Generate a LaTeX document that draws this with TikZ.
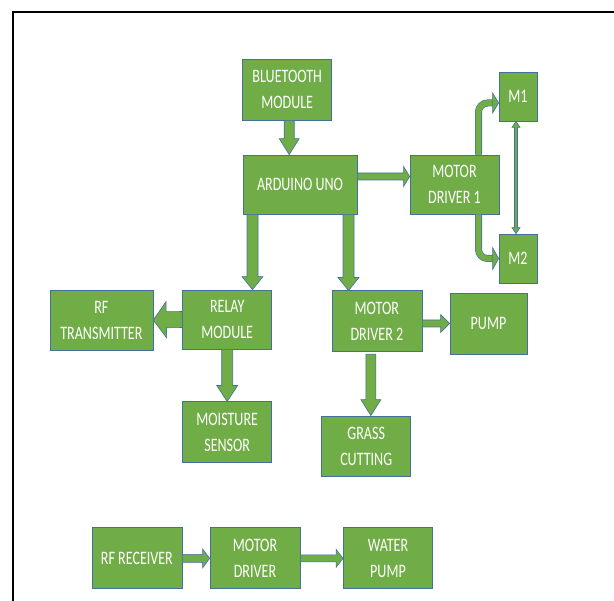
\documentclass[tikz,border=0pt]{standalone}
\usepackage{fontspec}
\setmainfont{Carlito}[FakeStretch=0.74]
\usepackage{tikz}
\usetikzlibrary{calc}
\definecolor{boxgreen}{HTML}{70AD47}
\definecolor{boxblue}{HTML}{41719C}
\tikzset{
  block/.style={draw=boxblue, line width=0.8pt, fill=boxgreen, text=white, align=center,
    inner sep=0pt, font=\fontsize{19}{26}\selectfont},
  blk/.style args={#1/#2/#3}{draw=boxblue, line width=0.6pt, fill=boxgreen,
    to path={let \p1=(\tikztostart), \p2=(\tikztotarget),
      \n1={atan2(\y2-\y1,\x2-\x1)}, \n2={veclen(\x2-\x1,\y2-\y1)} in
      ([shift={(\p1)},rotate=\n1]0pt,#1pt/2) -- ([shift={(\p1)},rotate=\n1]\n2-#3pt,#1pt/2)
      -- ([shift={(\p1)},rotate=\n1]\n2-#3pt,#2pt/2) -- ([shift={(\p1)},rotate=\n1]\n2,0pt)
      -- ([shift={(\p1)},rotate=\n1]\n2-#3pt,-#2pt/2) -- ([shift={(\p1)},rotate=\n1]\n2-#3pt,-#1pt/2)
      -- ([shift={(\p1)},rotate=\n1]0pt,-#1pt/2) -- cycle}},
  dblk/.style args={#1/#2/#3}{draw=boxblue, line width=0.6pt, fill=boxgreen,
    to path={let \p1=(\tikztostart), \p2=(\tikztotarget),
      \n1={atan2(\y2-\y1,\x2-\x1)}, \n2={veclen(\x2-\x1,\y2-\y1)} in
      ([shift={(\p1)},rotate=\n1]0pt,0pt) -- ([shift={(\p1)},rotate=\n1]#3pt,#2pt/2)
      -- ([shift={(\p1)},rotate=\n1]#3pt,#1pt/2) -- ([shift={(\p1)},rotate=\n1]\n2-#3pt,#1pt/2)
      -- ([shift={(\p1)},rotate=\n1]\n2-#3pt,#2pt/2) -- ([shift={(\p1)},rotate=\n1]\n2,0pt)
      -- ([shift={(\p1)},rotate=\n1]\n2-#3pt,-#2pt/2) -- ([shift={(\p1)},rotate=\n1]\n2-#3pt,-#1pt/2)
      -- ([shift={(\p1)},rotate=\n1]#3pt,-#1pt/2) -- ([shift={(\p1)},rotate=\n1]#3pt,-#2pt/2) -- cycle}},
  dbl/.style={draw=boxblue, line width=0.6pt, double=boxgreen, double distance=5.8pt, rounded corners=9pt}
}
\begin{document}
\begin{tikzpicture}[x=1pt, y=-1pt]
\useasboundingbox (0,0) rectangle (614,601);
\draw[line width=2pt] (13,601) -- (13,12) -- (614,12);

\node[block, minimum width=89pt, minimum height=61pt] (bt) at (287.2,89.5) {BLUETOOTH\\MODULE};
\node[block, minimum width=114pt, minimum height=59pt] (ard) at (300,184.5) {ARDUINO UNO};
\node[block, minimum width=89pt, minimum height=59pt] (md1) at (454.5,184.5) {MOTOR\\DRIVER 1};
\node[block, minimum width=38pt, minimum height=49pt] (m1) at (518,96.5) {M1};
\node[block, minimum width=38pt, minimum height=49pt] (m2) at (518,258.5) {M2};
\node[block, minimum width=103pt, minimum height=60pt] (rf) at (101.4,320) {RF\\TRANSMITTER};
\node[block, minimum width=89pt, minimum height=59pt] (relay) at (227.2,319.5) {RELAY\\MODULE};
\node[block, minimum width=89pt, minimum height=61pt] (moist) at (227.2,432.4) {MOISTURE\\SENSOR};
\node[block, minimum width=90pt, minimum height=61pt] (md2) at (376.9,321.4) {MOTOR\\DRIVER 2};
\node[block, minimum width=89pt, minimum height=60pt] (grass) at (366.2,446) {GRASS\\CUTTING};
\node[block, minimum width=77pt, minimum height=61pt] (pump) at (488.5,323.5) {PUMP};
\node[block, minimum width=90pt, minimum height=61pt] (rfr) at (136.9,558.4) {RF RECEIVER};
\node[block, minimum width=90pt, minimum height=61pt] (md3) at (255,558.4) {MOTOR\\DRIVER};
\node[block, minimum width=89pt, minimum height=61pt] (wp) at (388,558.4) {WATER\\PUMP};

\coordinate (b1) at ([xshift=2pt]bt.south);
\coordinate (a1) at ([xshift=-47.5pt]ard.south);
\coordinate (a2) at ([xshift=48.5pt]ard.south);
\coordinate (g1) at ([xshift=-6pt,yshift=-2pt]md2.south);
\path[blk=10/20/16] (b1) to (b1 |- ard.north);
\path[blk=7/20/6] ([yshift=8pt]ard.east) to ([yshift=8pt]md1.west);
\path[blk=11/21/13] (a1) to (a1 |- relay.north);
\path[blk=11/21/13] (a2) to (a2 |- md2.north);
\path[blk=16/36/13] (relay.west) to (rf.east);
\path[blk=11/21/16] (relay.south) to (moist.north);
\path[blk=10/20/16] (g1) to (g1 |- grass.north);
\path[blk=7/18/9] (md2.east |- pump.west) to (pump.west);
\path[blk=8/19/7] (rfr.east) to (md3.west);
\path[blk=7/18/7] (md3.east) to (wp.west);

\coordinate (m1in) at ([yshift=-6.5pt]m1.west);
\coordinate (m1hd) at ([xshift=-6pt]m1in);
\coordinate (m2hd) at ([xshift=-6pt]m2.west);
\draw[dbl] ([xshift=24pt]md1.north) |- (m1hd);
\path[blk=7/20/6] (m1hd) to (m1in);
\draw[dbl] ([xshift=24pt]md1.south) |- (m2hd);
\path[blk=7/22/6] (m2hd) to (m2.west);
\coordinate (mm) at ([xshift=-2pt]m1.south);
\path[dblk=3/8/6] (mm) to (mm |- m2.north);
\end{tikzpicture}
\end{document}
